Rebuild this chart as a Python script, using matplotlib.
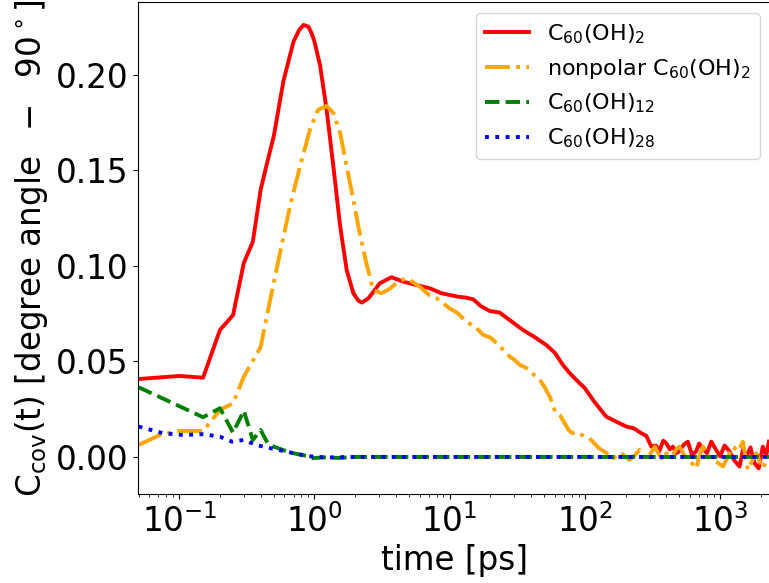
import matplotlib
matplotlib.use("Agg")
import matplotlib.pyplot as plt

# ---- data ----
red_t = [0.05, 0.1, 0.15, 0.2, 0.25, 0.3, 0.35, 0.4, 0.45, 0.5, 0.59, 0.7, 0.77, 0.83, 0.9,
         0.95, 1.0, 1.1, 1.23, 1.38, 1.55, 1.73, 1.94, 2.1, 2.24, 2.51, 3.04, 3.71, 4.53,
         5.69, 7.13, 8.69, 11.5, 13.0, 14.9, 17.0, 19.8, 23.4, 28.0, 34.8, 42.0, 51.9,
         60.0, 68.8, 77.0, 86.5, 100, 115, 130, 144, 170, 203, 230, 262, 285, 310, 335,
         355, 380, 400, 425, 448, 475, 500, 540, 578, 620, 667, 700, 747, 800, 861, 930,
         1000, 1080, 1175, 1280, 1394, 1480, 1563, 1680, 1800, 1930, 2072, 2200, 2300]
red_v = [0.0408, 0.0424, 0.0415, 0.0665, 0.0743, 0.1015, 0.1127, 0.140, 0.155, 0.168,
         0.197, 0.2175, 0.2235, 0.2262, 0.2253, 0.222, 0.2175, 0.205, 0.1817, 0.152,
         0.1206, 0.0979, 0.0857, 0.0820, 0.0808, 0.0831, 0.0909, 0.0941, 0.0918, 0.090,
         0.0883, 0.0857, 0.0839, 0.0835, 0.0826, 0.0790, 0.0764, 0.0756, 0.0715, 0.0665,
         0.0630, 0.0586, 0.0545, 0.0482, 0.0440, 0.0403, 0.0360, 0.0298, 0.0250, 0.0211,
         0.0185, 0.0159, 0.0150, 0.0124, 0.0110, 0.0054, 0.0060, 0.003, 0.0085, 0.0072,
         0.0040, 0.0054, 0.0020, 0.003, 0.0065, 0.008, 0.0010, 0.003, 0.0070, 0.0045,
         0.0020, 0.008, 0.0040, 0.0003, 0.0060, 0.003, -0.0020, -0.005, 0.0040, 0.0,
         0.0050, -0.0033, -0.0060, 0.0054, 0.0010, 0.008]

orange_t = [0.05, 0.072, 0.1, 0.15, 0.2, 0.25, 0.3, 0.4, 0.47, 0.555, 0.658, 0.78, 0.925,
            1.06, 1.23, 1.38, 1.55, 1.73, 1.94, 2.16, 2.42, 2.72, 3.13, 3.6, 4.15, 4.8,
            6.0, 7.13, 8.0, 10, 11.5, 13.3, 15.5, 17.7, 20.0, 22.3, 25.0, 27.8, 30.0, 33.0,
            36.0, 39, 42.0, 46.4, 50.0, 55, 61, 66.0, 72, 76.0, 81, 86.0, 91, 100, 108, 118,
            127, 145, 162, 175, 186, 200, 214, 235, 254, 280, 301, 330, 355, 378, 410, 448,
            475, 500, 545, 595, 630, 667, 700, 747, 810, 885, 960, 1050, 1140, 1245, 1360,
            1475, 1540, 1607, 1730, 1853, 1960, 2072, 2200, 2300]
orange_v = [0.0063, 0.0115, 0.0136, 0.0136, 0.0246, 0.0281, 0.042, 0.0577, 0.0822, 0.1066,
            0.131, 0.152, 0.1712, 0.1817, 0.1838, 0.18, 0.1695, 0.152, 0.1346, 0.1171,
            0.1014, 0.0874, 0.0857, 0.088, 0.0918, 0.0936, 0.0892, 0.0845, 0.0831, 0.0778,
            0.0752, 0.0708, 0.0680, 0.0639, 0.0625, 0.0595, 0.0560, 0.0525, 0.0510, 0.0482,
            0.0470, 0.0455, 0.0430, 0.0403, 0.0370, 0.0316, 0.0229, 0.0215, 0.0168, 0.0140,
            0.0124, 0.0130, 0.0124, 0.0105, 0.0098, 0.0070, 0.0046, 0.0020, -0.0007, 0.0010,
            0.002, 0.0000, -0.0016, 0.0010, 0.0037, -0.0010, 0.001, 0.0054, 0.0010,
            -0.0016, 0.0030, 0.001, 0.0040, 0.0054, 0.0010, -0.0016, -0.0040, -0.006,
            0.0000, 0.0054, 0.0010, -0.0016, -0.0030, -0.005, 0.0000, 0.0054, 0.0030, 0.008,
            0.0000, -0.0068, -0.0020, 0.0019, -0.0020, -0.006, -0.0020, 0.0]

green_t = [0.05, 0.1, 0.15, 0.2, 0.25, 0.3, 0.35, 0.4, 0.45, 0.5, 0.66, 0.88, 0.95, 1.16,
           1.5, 2, 5, 10, 50, 100, 500, 1000, 2300]
green_v = [0.0365, 0.0266, 0.0208, 0.0255, 0.0127, 0.0242, 0.0089, 0.0141, 0.0072, 0.0054,
           0.0023, 0.0005, -0.0007, -0.0002, -0.0005, 0.0, 0.0, 0.0, 0.0, 0.0, 0.0, 0.0, 0.0]

blue_t = [0.05, 0.076, 0.107, 0.15, 0.2, 0.245, 0.3, 0.37, 0.47, 0.62, 0.88, 1.2, 2, 10,
          100, 1000, 2300]
blue_v = [0.0159, 0.0124, 0.0115, 0.0119, 0.0106, 0.008, 0.0089, 0.0063, 0.0046, 0.0028,
          0.0005, -0.0003, 0.0, 0.0, 0.0, 0.0, 0.0]

labels = [r"C$_{60}$(OH)$_2$", r"nonpolar C$_{60}$(OH)$_2$",
          r"C$_{60}$(OH)$_{12}$", r"C$_{60}$(OH)$_{28}$"]

# ---- figure ----
W, H = 769, 583
fig = plt.figure(figsize=(W / 100, H / 100), dpi=100)
left, right, top, bottom = 138, 771, 2, 494
ax = fig.add_axes([left / W, 1 - bottom / H, (right - left) / W, (bottom - top) / H])

lw = 2.8
ax.plot(red_t, red_v, color="red", ls="-", lw=lw, label=labels[0])
ax.plot(orange_t, orange_v, color="orange", ls="-.", lw=lw, label=labels[1])
ax.plot(green_t, green_v, color="green", ls="--", lw=lw, label=labels[2])
ax.plot(blue_t, blue_v, color="blue", ls=":", lw=lw, label=labels[3])

ax.set_xscale("log")
ax.set_xlim(0.0495, 2382)
ax.set_ylim(-0.0194, 0.2382)
ax.set_yticks([0.0, 0.05, 0.10, 0.15, 0.20])
ax.set_yticklabels(["0.00", "0.05", "0.10", "0.15", "0.20"])
ax.tick_params(axis="both", which="major", labelsize=23.5)

ax.set_xlabel("time [ps]", fontsize=23.5)
ax.set_ylabel(r"C$_{\rm cov}$(t) [degree angle $\;-\;$ 90$^\circ$]", fontsize=23.5)

ax.legend(loc="upper right", fontsize=16)

fig.savefig("out.png", dpi=100)
